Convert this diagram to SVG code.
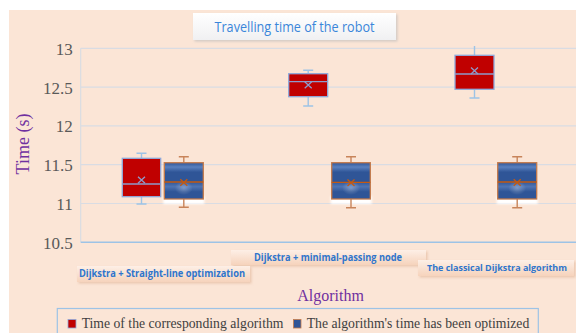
<svg xmlns="http://www.w3.org/2000/svg" width="576" height="333" viewBox="0 0 576 333">
<defs>
<style>
.ylab{font-family:"Liberation Serif","Times New Roman",serif;font-size:17px;fill:#595959;text-anchor:end}
.grid{stroke:#D9DCE3;stroke-width:1.2;fill:none}
.red{fill:#C00000;stroke:#8FAADC;stroke-width:1.3}
.redln{stroke:#8E9BCB;stroke-width:1.3;fill:none}
.redwh{stroke:#9DC3E6;stroke-width:1.4;fill:none}
.blue{fill:url(#bg);stroke:#C47A4B;stroke-width:1.3}
.blueln{stroke:#C55A11;stroke-width:1.3;fill:none}
.bluewh{stroke:#C8845A;stroke-width:1.4;fill:none}
.cat{font-family:"Open Sans","Liberation Sans",Arial,sans-serif;font-size:10px;font-weight:bold;fill:#2E75CC;text-anchor:middle}
.catbox{fill:url(#cg);filter:url(#sh)}
.leg{font-family:"Liberation Serif","Times New Roman",serif;font-size:13.7px;fill:#404040}
</style>
<linearGradient id="bg" x1="0" y1="0" x2="0" y2="1">
<stop offset="0" stop-color="#2F5597"/>
<stop offset="0.12" stop-color="#5A80BE"/>
<stop offset="0.26" stop-color="#2F5597"/>
<stop offset="0.52" stop-color="#2F5597"/>
<stop offset="0.66" stop-color="#4F74B3"/>
<stop offset="0.8" stop-color="#2F5597"/>
<stop offset="1" stop-color="#2F5597"/>
</linearGradient>
<radialGradient id="gl">
<stop offset="0" stop-color="#FFFFFF" stop-opacity="0.3"/>
<stop offset="1" stop-color="#FFFFFF" stop-opacity="0"/>
</radialGradient>
<linearGradient id="cg" x1="0" y1="0" x2="0" y2="1">
<stop offset="0" stop-color="#FDEFE6"/>
<stop offset="1" stop-color="#F6D3BC"/>
</linearGradient>
<linearGradient id="tg" x1="0" y1="0" x2="0" y2="1">
<stop offset="0" stop-color="#FFFFFF"/>
<stop offset="1" stop-color="#F0F0F2"/>
</linearGradient>
<filter id="sh" x="-10%" y="-30%" width="120%" height="170%">
<feDropShadow dx="1.5" dy="1.5" stdDeviation="1" flood-color="#D9A888" flood-opacity="0.5"/>
</filter>
<filter id="tsh" x="-10%" y="-30%" width="120%" height="170%">
<feDropShadow dx="1.5" dy="1.5" stdDeviation="1" flood-color="#B8B8B8" flood-opacity="0.6"/>
</filter>
<filter id="wb" x="-20%" y="-100%" width="140%" height="300%">
<feGaussianBlur stdDeviation="1.3"/>
</filter>
</defs>

<rect x="0" y="0" width="576" height="333" fill="#FFFFFF"/>
<rect x="9" y="10" width="567" height="330" fill="#FBE5D6"/>

<g id="title">
<rect x="193" y="13" width="203" height="27" fill="url(#tg)" filter="url(#tsh)"/>
<text x="294.5" y="31.5" font-family="Open Sans, Liberation Sans, Arial, sans-serif" font-size="14" fill="#3A86DA" text-anchor="middle" textLength="160" lengthAdjust="spacingAndGlyphs">Travelling time of the robot</text>
</g>

<g id="axes">
<line class="grid" x1="80.7" y1="48.3" x2="576" y2="48.3"/>
<line class="grid" x1="80.7" y1="87.1" x2="576" y2="87.1"/>
<line class="grid" x1="80.7" y1="125.9" x2="576" y2="125.9"/>
<line class="grid" x1="80.7" y1="164.7" x2="576" y2="164.7"/>
<line class="grid" x1="80.7" y1="203.5" x2="576" y2="203.5"/>
<line class="grid" x1="80.7" y1="48.3" x2="80.7" y2="242.3"/>
<line x1="80.7" y1="242.3" x2="576" y2="242.3" stroke="#9DC3E6" stroke-width="1.4"/>
<text class="ylab" x="72.7" y="54.8">13</text>
<text class="ylab" x="72.7" y="93.6">12.5</text>
<text class="ylab" x="72.7" y="132.4">12</text>
<text class="ylab" x="72.7" y="171.2">11.5</text>
<text class="ylab" x="72.7" y="210">11</text>
<text class="ylab" x="72.7" y="248.8">10.5</text>
<text x="29" y="144" transform="rotate(-90 29 144)" font-family="Liberation Serif, Times New Roman, serif" font-size="18" fill="#7030A0" text-anchor="middle">Time (s)</text>
<text x="330.5" y="300.5" font-family="Liberation Serif, Times New Roman, serif" font-size="16" fill="#7030A0" text-anchor="middle">Algorithm</text>
</g>

<g id="red1">
<path class="redwh" d="M136.5 153.3H146.5M141.5 153.3V158.3M141.5 196.7V204M136.5 204H146.5"/>
<rect class="red" x="122.3" y="158.3" width="38.4" height="38.4"/>
<line class="redln" x1="122.3" y1="184" x2="160.7" y2="184"/>
<path class="redln" d="M138 176.8L145 183.2M145 176.8L138 183.2"/>
</g>
<g id="blue1">
<rect x="163.3" y="196" width="41" height="8" fill="#FFFFFF" filter="url(#wb)"/>
<path class="bluewh" d="M178.8 156.7H188.8M183.8 156.7V162.7M183.8 199V207.3M178.8 207.3H188.8"/>
<rect class="blue" x="164.3" y="162.7" width="39" height="36.3"/>
<ellipse cx="183.8" cy="188" rx="9" ry="7" fill="url(#gl)"/>
<line class="blueln" x1="164.3" y1="182" x2="203.3" y2="182"/>
<path class="blueln" d="M180.3 179.3L187.3 185.7M187.3 179.3L180.3 185.7"/>
</g>

<g id="red2">
<path class="redwh" d="M303.2 70.3H313.2M308.2 70.3V73.7M308.2 96.7V106M303.2 106H313.2"/>
<rect class="red" x="288.7" y="73.7" width="39" height="23"/>
<line class="redln" x1="288.7" y1="81.7" x2="327.7" y2="81.7"/>
<path class="redln" d="M304.7 81.8L311.7 88.2M311.7 81.8L304.7 88.2"/>
</g>
<g id="blue2">
<rect x="330.7" y="196" width="41" height="8" fill="#FFFFFF" filter="url(#wb)"/>
<path class="bluewh" d="M346 156.7H356M351 156.7V162.7M351 199V207.7M346 207.7H356"/>
<rect class="blue" x="331.7" y="162.7" width="38.6" height="36.3"/>
<ellipse cx="351" cy="188" rx="9" ry="7" fill="url(#gl)"/>
<line class="blueln" x1="331.7" y1="182.3" x2="370.3" y2="182.3"/>
<path class="blueln" d="M347.5 179.5L354.5 185.9M354.5 179.5L347.5 185.9"/>
</g>

<g id="red3">
<path class="redwh" d="M474.5 46V55.3M474.5 89.3V98M469.5 98H479.5"/>
<rect class="red" x="455" y="55.3" width="39" height="34"/>
<line class="redln" x1="455" y1="74" x2="494" y2="74"/>
<path class="redln" d="M471 67.5L478 73.9M478 67.5L471 73.9"/>
</g>
<g id="blue3">
<rect x="496.7" y="196" width="41" height="8" fill="#FFFFFF" filter="url(#wb)"/>
<path class="bluewh" d="M512.2 156.7H522.2M517.2 156.7V162.7M517.2 199V207.7M512.2 207.7H522.2"/>
<rect class="blue" x="497.7" y="162.7" width="39" height="36.3"/>
<ellipse cx="517.2" cy="188" rx="9" ry="7" fill="url(#gl)"/>
<line class="blueln" x1="497.7" y1="182" x2="536.7" y2="182"/>
<path class="blueln" d="M513.7 179.3L520.7 185.7M520.7 179.3L513.7 185.7"/>
</g>

<g id="label2">
<rect class="catbox" x="231" y="250" width="195" height="15"/>
<text class="cat" x="328" y="260.5" textLength="148" lengthAdjust="spacingAndGlyphs">Dijkstra + minimal-passing node</text>
</g>
<g id="label1">
<rect class="catbox" x="77" y="266" width="173" height="16"/>
<text class="cat" x="162" y="277.3" textLength="166" lengthAdjust="spacingAndGlyphs">Dijkstra + Straight-line optimization</text>
</g>
<g id="label3">
<rect class="catbox" x="418" y="260" width="156" height="16"/>
<text class="cat" x="497" y="271.2" style="font-size:9.4px" textLength="140" lengthAdjust="spacingAndGlyphs">The classical Dijkstra algorithm</text>
</g>

<g id="legend">
<rect x="57.3" y="308.5" width="481" height="40" fill="#FBE5D6" stroke="#9DC3E6" stroke-width="1.2"/>
<rect x="68" y="319.5" width="8" height="8.5" fill="#C00000" stroke="#8FAADC" stroke-width="0.8"/>
<text class="leg" x="81.7" y="328.3">Time of the corresponding algorithm</text>
<rect x="293.5" y="319.5" width="7.5" height="8.5" fill="#2F5597" stroke="#C47A4B" stroke-width="0.8"/>
<text class="leg" x="306.7" y="328.3">The algorithm's time has been optimized</text>
</g>
</svg>
